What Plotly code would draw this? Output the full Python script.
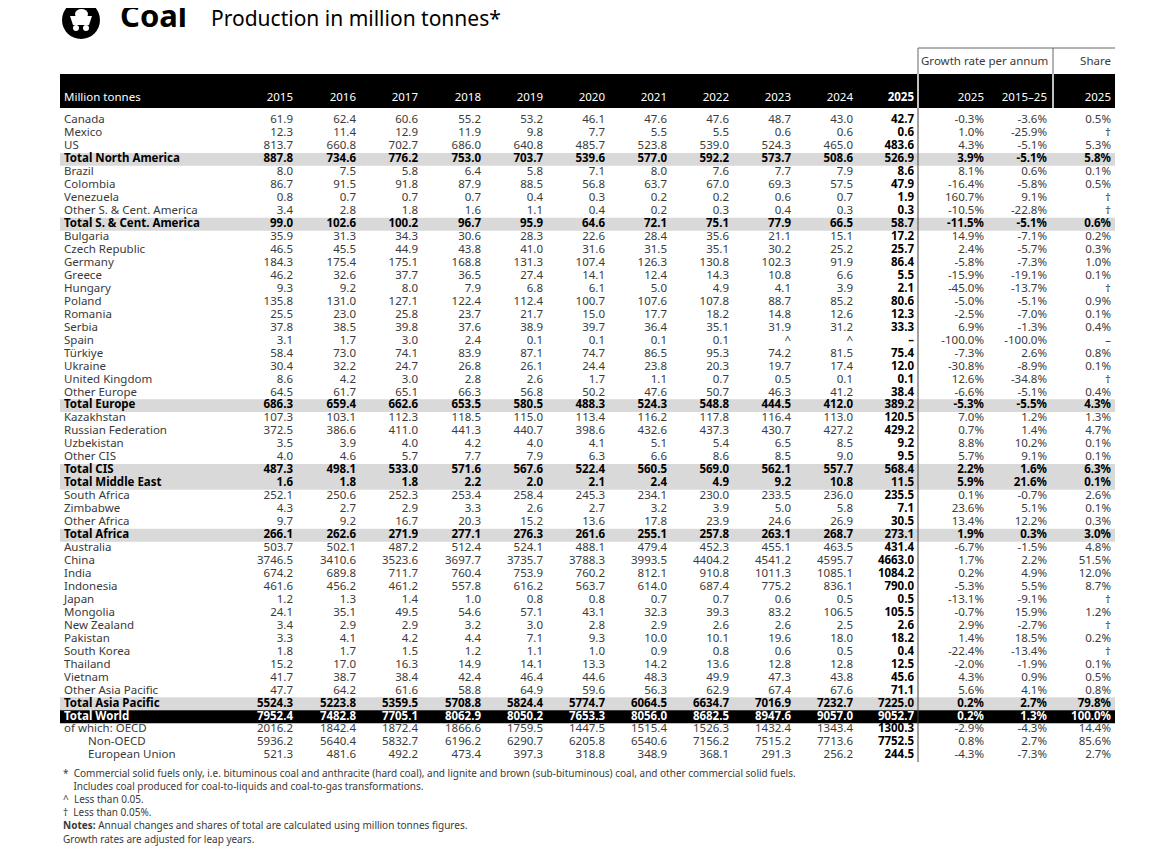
import plotly.graph_objects as go

years = ["2015", "2016", "2017", "2018", "2019", "2020", "2021", "2022", "2023", "2024", "2025"]

countries = [
    "Canada", "Mexico", "US", "Total North America",
    "Brazil", "Colombia", "Venezuela", "Other S. & Cent. America", "Total S. & Cent. America",
    "Bulgaria", "Czech Republic", "Germany", "Greece", "Hungary", "Poland", "Romania", "Serbia",
    "Spain", "Türkiye", "Ukraine", "United Kingdom", "Other Europe", "Total Europe",
    "Kazakhstan", "Russian Federation", "Uzbekistan", "Other CIS", "Total CIS",
    "Total Middle East",
    "South Africa", "Zimbabwe", "Other Africa", "Total Africa",
    "Australia", "China", "India", "Indonesia", "Japan", "Mongolia", "New Zealand", "Pakistan",
    "South Korea", "Thailand", "Vietnam", "Other Asia Pacific", "Total Asia Pacific",
    "Total World", "of which: OECD", "Non-OECD", "European Union",
]

production = [
    "61.9 62.4 60.6 55.2 53.2 46.1 47.6 47.6 48.7 43.0 42.7",
    "12.3 11.4 12.9 11.9 9.8 7.7 5.5 5.5 0.6 0.6 0.6",
    "813.7 660.8 702.7 686.0 640.8 485.7 523.8 539.0 524.3 465.0 483.6",
    "887.8 734.6 776.2 753.0 703.7 539.6 577.0 592.2 573.7 508.6 526.9",
    "8.0 7.5 5.8 6.4 5.8 7.1 8.0 7.6 7.7 7.9 8.6",
    "86.7 91.5 91.8 87.9 88.5 56.8 63.7 67.0 69.3 57.5 47.9",
    "0.8 0.7 0.7 0.7 0.4 0.3 0.2 0.2 0.6 0.7 1.9",
    "3.4 2.8 1.8 1.6 1.1 0.4 0.2 0.3 0.4 0.3 0.3",
    "99.0 102.6 100.2 96.7 95.9 64.6 72.1 75.1 77.9 66.5 58.7",
    "35.9 31.3 34.3 30.6 28.3 22.6 28.4 35.6 21.1 15.1 17.2",
    "46.5 45.5 44.9 43.8 41.0 31.6 31.5 35.1 30.2 25.2 25.7",
    "184.3 175.4 175.1 168.8 131.3 107.4 126.3 130.8 102.3 91.9 86.4",
    "46.2 32.6 37.7 36.5 27.4 14.1 12.4 14.3 10.8 6.6 5.5",
    "9.3 9.2 8.0 7.9 6.8 6.1 5.0 4.9 4.1 3.9 2.1",
    "135.8 131.0 127.1 122.4 112.4 100.7 107.6 107.8 88.7 85.2 80.6",
    "25.5 23.0 25.8 23.7 21.7 15.0 17.7 18.2 14.8 12.6 12.3",
    "37.8 38.5 39.8 37.6 38.9 39.7 36.4 35.1 31.9 31.2 33.3",
    "3.1 1.7 3.0 2.4 0.1 0.1 0.1 0.1 ^ ^ –",
    "58.4 73.0 74.1 83.9 87.1 74.7 86.5 95.3 74.2 81.5 75.4",
    "30.4 32.2 24.7 26.8 26.1 24.4 23.8 20.3 19.7 17.4 12.0",
    "8.6 4.2 3.0 2.8 2.6 1.7 1.1 0.7 0.5 0.1 0.1",
    "64.5 61.7 65.1 66.3 56.8 50.2 47.6 50.7 46.3 41.2 38.4",
    "686.3 659.4 662.6 653.5 580.5 488.3 524.3 548.8 444.5 412.0 389.2",
    "107.3 103.1 112.3 118.5 115.0 113.4 116.2 117.8 116.4 113.0 120.5",
    "372.5 386.6 411.0 441.3 440.7 398.6 432.6 437.3 430.7 427.2 429.2",
    "3.5 3.9 4.0 4.2 4.0 4.1 5.1 5.4 6.5 8.5 9.2",
    "4.0 4.6 5.7 7.7 7.9 6.3 6.6 8.6 8.5 9.0 9.5",
    "487.3 498.1 533.0 571.6 567.6 522.4 560.5 569.0 562.1 557.7 568.4",
    "1.6 1.8 1.8 2.2 2.0 2.1 2.4 4.9 9.2 10.8 11.5",
    "252.1 250.6 252.3 253.4 258.4 245.3 234.1 230.0 233.5 236.0 235.5",
    "4.3 2.7 2.9 3.3 2.6 2.7 3.2 3.9 5.0 5.8 7.1",
    "9.7 9.2 16.7 20.3 15.2 13.6 17.8 23.9 24.6 26.9 30.5",
    "266.1 262.6 271.9 277.1 276.3 261.6 255.1 257.8 263.1 268.7 273.1",
    "503.7 502.1 487.2 512.4 524.1 488.1 479.4 452.3 455.1 463.5 431.4",
    "3746.5 3410.6 3523.6 3697.7 3735.7 3788.3 3993.5 4404.2 4541.2 4595.7 4663.0",
    "674.2 689.8 711.7 760.4 753.9 760.2 812.1 910.8 1011.3 1085.1 1084.2",
    "461.6 456.2 461.2 557.8 616.2 563.7 614.0 687.4 775.2 836.1 790.0",
    "1.2 1.3 1.4 1.0 0.8 0.8 0.7 0.7 0.6 0.5 0.5",
    "24.1 35.1 49.5 54.6 57.1 43.1 32.3 39.3 83.2 106.5 105.5",
    "3.4 2.9 2.9 3.2 3.0 2.8 2.9 2.6 2.6 2.5 2.6",
    "3.3 4.1 4.2 4.4 7.1 9.3 10.0 10.1 19.6 18.0 18.2",
    "1.8 1.7 1.5 1.2 1.1 1.0 0.9 0.8 0.6 0.5 0.4",
    "15.2 17.0 16.3 14.9 14.1 13.3 14.2 13.6 12.8 12.8 12.5",
    "41.7 38.7 38.4 42.4 46.4 44.6 48.3 49.9 47.3 43.8 45.6",
    "47.7 64.2 61.6 58.8 64.9 59.6 56.3 62.9 67.4 67.6 71.1",
    "5524.3 5223.8 5359.5 5708.8 5824.4 5774.7 6064.5 6634.7 7016.9 7232.7 7225.0",
    "7952.4 7482.8 7705.1 8062.9 8050.2 7653.3 8056.0 8682.5 8947.6 9057.0 9052.7",
    "2016.2 1842.4 1872.4 1866.6 1759.5 1447.5 1515.4 1526.3 1432.4 1343.4 1300.3",
    "5936.2 5640.4 5832.7 6196.2 6290.7 6205.8 6540.6 7156.2 7515.2 7713.6 7752.5",
    "521.3 481.6 492.2 473.4 397.3 318.8 348.9 368.1 291.3 256.2 244.5",
]

growth_2025 = [
    "-0.3%", "1.0%", "4.3%", "3.9%", "8.1%", "-16.4%", "160.7%", "-10.5%", "-11.5%",
    "14.9%", "2.4%", "-5.8%", "-15.9%", "-45.0%", "-5.0%", "-2.5%", "6.9%", "-100.0%",
    "-7.3%", "-30.8%", "12.6%", "-6.6%", "-5.3%", "7.0%", "0.7%", "8.8%", "5.7%", "2.2%",
    "5.9%", "0.1%", "23.6%", "13.4%", "1.9%", "-6.7%", "1.7%", "0.2%", "-5.3%", "-13.1%",
    "-0.7%", "2.9%", "1.4%", "-22.4%", "-2.0%", "4.3%", "5.6%", "0.2%", "0.2%", "-2.9%",
    "0.8%", "-4.3%",
]
growth_2015_25 = [
    "-3.6%", "-25.9%", "-5.1%", "-5.1%", "0.6%", "-5.8%", "9.1%", "-22.8%", "-5.1%",
    "-7.1%", "-5.7%", "-7.3%", "-19.1%", "-13.7%", "-5.1%", "-7.0%", "-1.3%", "-100.0%",
    "2.6%", "-8.9%", "-34.8%", "-5.1%", "-5.5%", "1.2%", "1.4%", "10.2%", "9.1%", "1.6%",
    "21.6%", "-0.7%", "5.1%", "12.2%", "0.3%", "-1.5%", "2.2%", "4.9%", "5.5%", "-9.1%",
    "15.9%", "-2.7%", "18.5%", "-13.4%", "-1.9%", "0.9%", "4.1%", "2.7%", "1.3%", "-4.3%",
    "2.7%", "-7.3%",
]
share_2025 = [
    "0.5%", "†", "5.3%", "5.8%", "0.1%", "0.5%", "†", "†", "0.6%",
    "0.2%", "0.3%", "1.0%", "0.1%", "†", "0.9%", "0.1%", "0.4%", "–",
    "0.8%", "0.1%", "†", "0.4%", "4.3%", "1.3%", "4.7%", "0.1%", "0.1%", "6.3%",
    "0.1%", "2.6%", "0.1%", "0.3%", "3.0%", "4.8%", "51.5%", "12.0%", "8.7%", "†",
    "1.2%", "†", "0.2%", "†", "0.1%", "0.5%", "0.8%", "79.8%", "100.0%", "14.4%",
    "85.6%", "2.7%",
]

# layout constants (pixel space of the page; the page body has an 8px margin)
W, H = 1152, 848
PAD = 8
LEFT, RIGHT = 60, 1115
ROW0, ROWH = 120.5, 12.96
col_right = [292, 355, 417, 480, 542, 604, 666, 728, 790, 852, 913, 983, 1046, 1110]
SEP1, SEP2 = 918, 1053
FONT = "Noto Sans"
GREY_TXT = "#3a3a3a"

row_y = [ROW0 + i * ROWH for i in range(len(countries))]
is_total = [c.startswith("Total") for c in countries]

fig = go.Figure()
shapes = []

# grey bands for totals, black for world
for i, c in enumerate(countries):
    if is_total[i]:
        fill = "black" if c == "Total World" else "#d9d9d9"
        shapes.append(dict(type="rect", xref="x", yref="y", x0=LEFT, x1=RIGHT,
                           y0=row_y[i] - ROWH / 2, y1=row_y[i] + ROWH / 2,
                           fillcolor=fill, line_width=0, layer="below"))

# header bar + lines
shapes.append(dict(type="rect", x0=LEFT, x1=RIGHT, y0=74, y1=108, fillcolor="black",
                   line_width=0, layer="below"))
shapes.append(dict(type="line", x0=SEP1, x1=RIGHT, y0=48, y1=48, line=dict(color="#666", width=1)))
shapes.append(dict(type="line", x0=SEP1, x1=SEP1, y0=48, y1=74, line=dict(color="#666", width=1)))
shapes.append(dict(type="line", x0=SEP2, x1=SEP2, y0=48, y1=74, line=dict(color="#666", width=1)))
shapes.append(dict(type="line", x0=SEP1, x1=SEP1, y0=74, y1=108, line=dict(color="white", width=1.5)))
shapes.append(dict(type="line", x0=SEP2, x1=SEP2, y0=74, y1=108, line=dict(color="white", width=1.5)))
shapes.append(dict(type="line", x0=SEP1, x1=SEP1, y0=108, y1=row_y[-1] + ROWH / 2,
                   line=dict(color="#444", width=1)))
# icon
shapes.append(dict(type="circle", x0=62, x1=100, y0=1, y1=39, fillcolor="black", line_width=0))
shapes.append(dict(type="path", path="M 70 16 L 92 16 L 89 25 L 73 25 Z", fillcolor="white", line_width=0))
shapes.append(dict(type="circle", x0=73, x1=79, y0=25, y1=31, fillcolor="white", line_width=0))
shapes.append(dict(type="circle", x0=83, x1=89, y0=25, y1=31, fillcolor="white", line_width=0))
shapes.append(dict(type="circle", x0=75, x1=88, y0=9, y1=19, fillcolor="white", line_width=0))


def add_text(xs, ys, texts, colors, pos="middle left", size=11.5):
    fig.add_trace(go.Scatter(x=xs, y=ys, text=texts, mode="text", textposition=pos,
                             textfont=dict(family=FONT, size=size, color=colors),
                             hoverinfo="skip", showlegend=False, cliponaxis=False))


def fmt(t, bold):
    return f"<b>{t}</b>" if bold else t


def row_color(i):
    if countries[i] == "Total World":
        return "white"
    return "black" if is_total[i] else GREY_TXT


# country names
name_x = [88 if c in ("Non-OECD", "European Union") else 64 for c in countries]
add_text(name_x, row_y, [fmt(c, is_total[i]) for i, c in enumerate(countries)],
         [row_color(i) for i in range(len(countries))], pos="middle right")

# numeric columns
rows = [r.split() for r in production]
for j in range(len(years)):
    texts = [fmt(rows[i][j], is_total[i] or j == 10) for i in range(len(countries))]
    colors = [row_color(i) if (is_total[i] or j != 10) else "black" for i in range(len(countries))]
    add_text([col_right[j] + 1] * len(countries), row_y, texts, colors)

for j, col in zip([11, 12, 13], [growth_2025, growth_2015_25, share_2025]):
    texts = [fmt(v, is_total[i]) for i, v in enumerate(col)]
    add_text([col_right[j] + 1] * len(countries), row_y, texts,
             [row_color(i) for i in range(len(countries))])

# header
add_text([64], [98], ["Million tonnes"], "white", pos="middle right")
head_labels = years + ["2025", "2015–25", "2025"]
add_text([x + 1 for x in col_right], [98] * len(head_labels),
         [f"<b>{t}</b>" if k == 10 else t for k, t in enumerate(head_labels)], "white")
add_text([921], [62], ["Growth rate per annum"], GREY_TXT, pos="middle right")
add_text([1111], [62], ["Share"], GREY_TXT)

# title
add_text([120], [19], ["<b>Coal</b>"], "black", pos="middle right", size=31)
add_text([211], [21], ["Production in million tonnes*"], "black", pos="middle right", size=21)

# footnotes
notes = [
    "*  Commercial solid fuels only, i.e. bituminous coal and anthracite (hard coal), and lignite and brown (sub-bituminous) coal, and other commercial solid fuels.",
    "    Includes coal produced for coal-to-liquids and coal-to-gas transformations.",
    "^  Less than 0.05.",
    "†  Less than 0.05%.",
    "<b>Notes:</b> Annual changes and shares of total are calculated using million tonnes figures.",
    "Growth rates are adjusted for leap years.",
]
add_text([63] * len(notes), [774 + k * 13.2 for k in range(len(notes))], notes, GREY_TXT,
         pos="middle right", size=10)

fig.update_layout(
    width=W - PAD, height=H - PAD, margin=dict(l=0, r=0, t=0, b=0),
    paper_bgcolor="white", plot_bgcolor="white", shapes=shapes,
    xaxis=dict(range=[PAD, W], visible=False, fixedrange=True),
    yaxis=dict(range=[H, PAD], visible=False, fixedrange=True),
)
fig.write_html("out.html")
